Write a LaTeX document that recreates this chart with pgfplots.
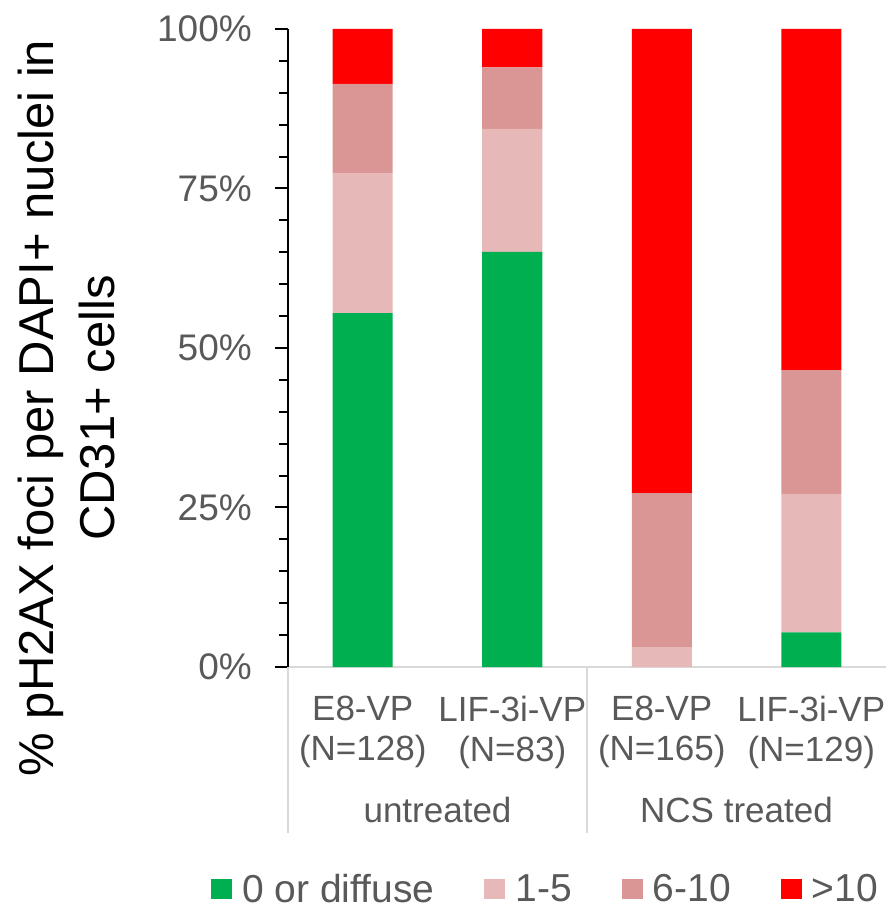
\documentclass[border=0pt]{standalone}
\usepackage{fontspec}
\setmainfont{Liberation Sans}
\usepackage{pgfplots}
\usepackage{pgfplotstable}
\pgfplotsset{compat=1.18}

\definecolor{cdiff}{HTML}{00B050}
\definecolor{cone}{HTML}{E6B8B7}
\definecolor{csix}{HTML}{DA9694}
\definecolor{cten}{HTML}{FF0000}
\definecolor{txt}{HTML}{595959}
\definecolor{sep}{HTML}{D9D9D9}

% percent of nuclei per foci class
\pgfplotstableread{
x diffuse one six ten
0 55.47 21.88 14.06 8.59
1 65.06 19.28 9.64 6.02
2 0.00 3.03 24.24 72.73
3 5.43 21.71 19.38 53.49
}\foci

\begin{document}
\begin{tikzpicture}
\begin{axis}[
    scale only axis,
    width=598pt, height=638pt,
    xmin=-0.5, xmax=3.5, ymin=0, ymax=100,
    ybar stacked, bar width=60pt,
    axis lines*=left,
    x axis line style={draw=sep, line width=2pt},
    y axis line style={draw=black, line width=2pt},
    xtick={0,1,2,3},
    xticklabels={E8-VP\\(N=128), LIF-3i-VP\\(N=83), E8-VP\\(N=165), LIF-3i-VP\\(N=129)},
    xtick style={draw=none},
    xticklabel style={align=center, font=\fontsize{35}{40}\selectfont, text=txt,
        anchor=north, inner sep=0pt, yshift=-16pt},
    ytick={0,25,50,75,100},
    yticklabels={0\%,25\%,50\%,75\%,100\%},
    minor y tick num=4,
    ytick style={draw=black, line width=2pt},
    tick align=outside,
    major tick length=13pt, minor tick length=9pt,
    yticklabel style={font=\fontsize{37}{44}\selectfont, text=txt, inner sep=0pt, xshift=-23pt},
    clip=false,
    legend columns=4,
    legend style={draw=none, fill=none, at={(rel axis cs:0,0)}, anchor=west,
        xshift=-77pt, yshift=-222pt, inner sep=0pt,
        font=\fontsize{39}{44}\selectfont, text=txt,
        nodes={inner sep=0pt},
        /tikz/every odd column/.append style={column sep=10pt},
        /tikz/every even column/.append style={column sep=50pt}},
    lsq/.style={legend image code/.code={\fill[##1] (0pt,-10pt) rectangle (21pt,10pt);}},
]
\addplot[fill=cdiff, draw=none, lsq] table[x=x, y=diffuse] {\foci};
\addplot[fill=cone, draw=none, lsq] table[x=x, y=one] {\foci};
\addplot[fill=csix, draw=none, lsq] table[x=x, y=six] {\foci};
\addplot[fill=cten, draw=none, lsq] table[x=x, y=ten] {\foci};
\legend{0 or diffuse, 1-5, 6-10, >10}

\draw[sep, line width=2pt] (axis cs:-0.5,0) -- ([yshift=-166pt]axis cs:-0.5,0);
\draw[sep, line width=2pt] (axis cs:1.5,0) -- ([yshift=-166pt]axis cs:1.5,0);
\node[anchor=base, font=\fontsize{35}{40}\selectfont, text=txt] at ([yshift=-155pt]axis cs:0.5,0) {untreated};
\node[anchor=base, font=\fontsize{35}{40}\selectfont, text=txt] at ([yshift=-155pt]axis cs:2.5,0) {NCS treated};

\node[rotate=90, anchor=base, font=\fontsize{49}{60}\selectfont] at ([xshift=-234pt, yshift=259pt]axis cs:-0.5,0) {\% pH2AX foci per DAPI+ nuclei in};
\node[rotate=90, anchor=base, font=\fontsize{49}{60}\selectfont] at ([xshift=-173pt, yshift=259pt]axis cs:-0.5,0) {CD31+ cells};

\path ([xshift=-288pt, yshift=-242pt]axis cs:-0.5,0) rectangle ([yshift=29pt]axis cs:3.5,100);
\end{axis}
\end{tikzpicture}
\end{document}
